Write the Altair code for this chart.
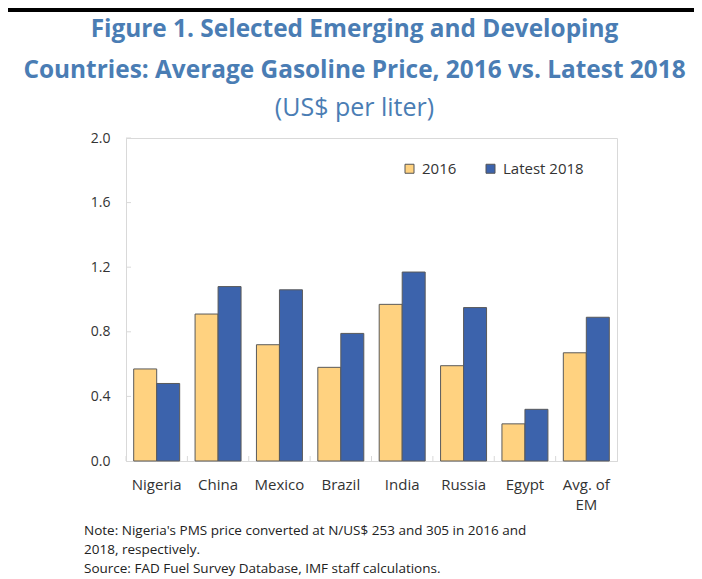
import altair as alt
import pandas as pd

countries = ["Nigeria", "China", "Mexico", "Brazil", "India", "Russia", "Egypt", "Avg. of EM"]
price_2016 = [0.57, 0.91, 0.72, 0.58, 0.97, 0.59, 0.23, 0.67]
price_2018 = [0.48, 1.08, 1.06, 0.79, 1.17, 0.95, 0.32, 0.89]
series = ["2016", "Latest 2018"]
series_colors = ["#ffd280", "#3c63ac"]
y_ticks = [0.0, 0.4, 0.8, 1.2, 1.6, 2.0]
title_lines = ["Figure 1. Selected Emerging and Developing",
               "Countries: Average Gasoline Price, 2016 vs. Latest 2018"]
subtitle = "(US$ per liter)"
notes = ["Note: Nigeria's PMS price converted at N/US$ 253 and 305 in 2016 and",
         "2018, respectively.",
         "Source: FAD Fuel Survey Database, IMF staff calculations."]

rows = []
for c, a, b in zip(countries, price_2016, price_2018):
    rows.append({"country": c, "series": series[0], "value": a})
    rows.append({"country": c, "series": series[1], "value": b})
df = pd.DataFrame(rows)

W, H = 491, 323
FONT = "Open Sans"
BLUE = "#4a7db4"

x_scale = alt.Scale(paddingInner=0, paddingOuter=0)

bars = alt.Chart(df).mark_bar(stroke="#5a5a5a", strokeWidth=1).encode(
    x=alt.X("country:N", sort=countries, scale=x_scale,
            axis=alt.Axis(title=None, labelAngle=0, ticks=False, domainColor="#d9d9d9",
                          labelFontSize=15, labelColor="#333333", labelPadding=16,
                          labelFont=FONT, labelLineHeight=20,
                          labelExpr="datum.value == 'Avg. of EM' ? ['Avg. of', 'EM'] : datum.value")),
    xOffset=alt.XOffset("series:N", sort=series,
                        scale=alt.Scale(paddingInner=0, paddingOuter=0.335)),
    y=alt.Y("value:Q", scale=alt.Scale(domain=[0, 2], nice=False),
            axis=alt.Axis(values=y_ticks, format=".1f", title=None, grid=False, ticks=False,
                          domainColor="#d9d9d9", labelFontSize=14, labelPadding=16,
                          labelColor="#333333", labelFont=FONT)),
    color=alt.Color("series:N", sort=series,
                    scale=alt.Scale(domain=series, range=series_colors),
                    legend=alt.Legend(title=None, orient="none", legendX=276, legendY=23,
                                      direction="horizontal", symbolType="square",
                                      symbolSize=81, symbolStrokeColor="#555555",
                                      symbolStrokeWidth=1, labelFontSize=15,
                                      labelFont=FONT, labelColor="#333333",
                                      columnPadding=26, labelOffset=5)),
)

xticks = alt.Chart(pd.DataFrame({"country": countries})).mark_rule(
    color="#d9d9d9", strokeWidth=1).encode(
    x=alt.X("country:N", sort=countries, bandPosition=0),
    y=alt.value(H - 5), y2=alt.value(H))

yticks = alt.Chart(pd.DataFrame({"value": y_ticks[1:]})).mark_rule(
    color="#d9d9d9", strokeWidth=1).encode(
    y=alt.Y("value:Q"), x=alt.value(0), x2=alt.value(5))

note_text = alt.Chart(pd.DataFrame({"k": [0]})).mark_text(
    align="left", baseline="middle", fontSize=13.5, lineHeight=19, color="#222222",
    font=FONT, text=notes).encode(x=alt.value(-42), y=alt.value(531 - 138))

top_rule = alt.Chart(pd.DataFrame({"k": [0]})).mark_rule(
    color="black", strokeWidth=4).encode(
    x=alt.value(-118), x2=alt.value(W + 77), y=alt.value(-128))

chart = alt.layer(bars, xticks, yticks, note_text, top_rule).properties(
    width=W, height=H,
    autosize=alt.AutoSizeParams(type="none"),
    padding={"left": 118, "top": 130, "right": 77, "bottom": 116},
    title=alt.TitleParams(text=title_lines, subtitle=subtitle, anchor="middle",
                          frame="group",
                          font=FONT, fontSize=24.4, fontWeight="bold", color=BLUE,
                          lineHeight=41, subtitleFont=FONT, subtitleFontSize=25,
                          subtitleFontWeight="normal", subtitleColor=BLUE,
                          subtitlePadding=13, offset=14, dx=-17, dy=128),
).configure_view(stroke="#d9d9d9", strokeWidth=1)

chart.save("out.html", embed_options={"renderer": "svg", "actions": False})
